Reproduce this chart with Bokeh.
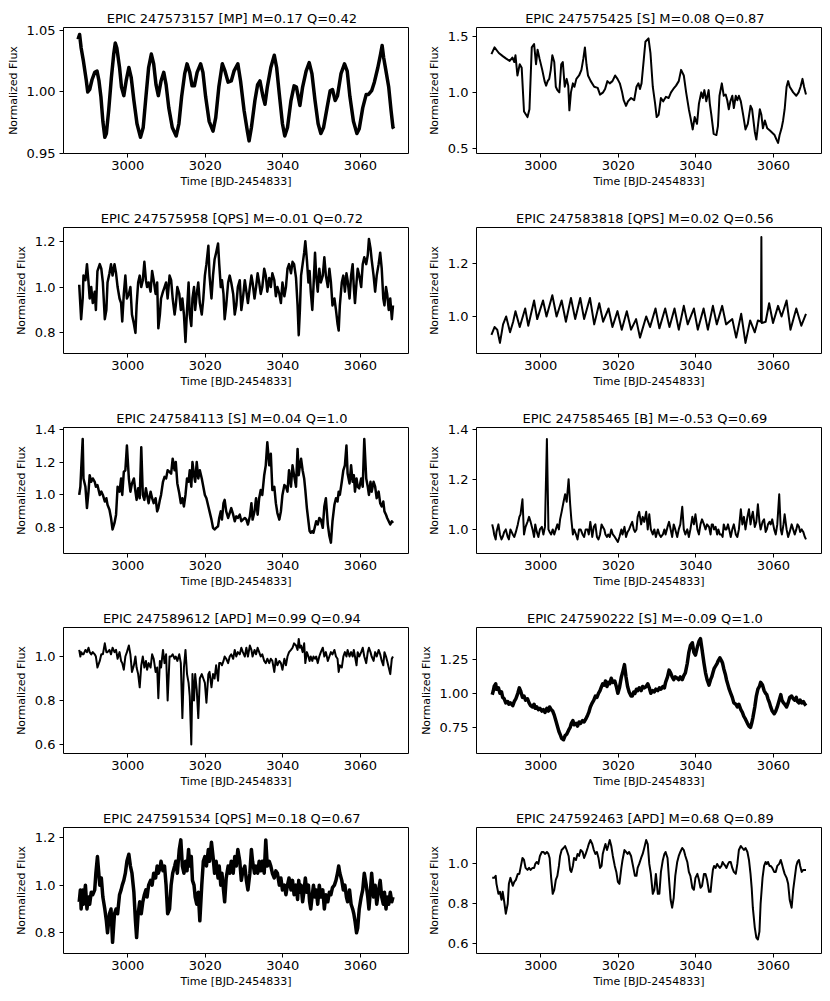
from bokeh.plotting import figure
from bokeh.layouts import column, row
from bokeh.models import Range1d, FixedTicker, PrintfTickFormatter
from bokeh.embed import file_html
from bokeh.resources import INLINE

TITLES = [
    "EPIC 247573157  [MP]  M=0.17 Q=0.42",
    "EPIC 247575425  [S]  M=0.08 Q=0.87",
    "EPIC 247575958  [QPS]  M=-0.01 Q=0.72",
    "EPIC 247583818  [QPS]  M=0.02 Q=0.56",
    "EPIC 247584113  [S]  M=0.04 Q=1.0",
    "EPIC 247585465  [B]  M=-0.53 Q=0.69",
    "EPIC 247589612  [APD]  M=0.99 Q=0.94",
    "EPIC 247590222  [S]  M=-0.09 Q=1.0",
    "EPIC 247591534  [QPS]  M=0.18 Q=0.67",
    "EPIC 247592463  [APD]  M=0.68 Q=0.89",
]
X_LABEL = "Time [BJD-2454833]"
Y_LABEL = "Normalized Flux"
X_TICKS = [3000, 3020, 3040, 3060]
X_LIMITS = (2983.45, 3072.4)
Y_TICKS = [
    [0.95, 1.00, 1.05], [0.5, 1.0, 1.5], [0.8, 1.0, 1.2], [1.0, 1.2],
    [0.8, 1.0, 1.2, 1.4], [1.0, 1.2, 1.4], [0.6, 0.8, 1.0], [0.75, 1.00, 1.25],
    [0.8, 1.0, 1.2], [0.6, 0.8, 1.0],
]
Y_FORMATS = ["%.2f", "%.1f", "%.1f", "%.1f", "%.1f", "%.1f", "%.1f", "%.2f", "%.1f", "%.1f"]
Y_LIMITS = [
    (0.9497, 1.0527), (0.456, 1.577), (0.71, 1.26), (0.86, 1.336), (0.644, 1.41),
    (0.904, 1.406), (0.559, 1.132), (0.559, 1.482), (0.713, 1.242), (0.55, 1.183),
]
LINE_WIDTHS = [3.5, 2, 2.5, 2, 2.5, 2, 2, 3.5, 3.5, 2]

# ---- panel 1 (own sampling) ----
TIME_1 = [
    2987.2, 2987.6, 2988.0, 2988.6, 2989.3, 2989.7, 2990.2, 2990.8, 2991.5, 2992.1,
    2992.6, 2993.1, 2993.6, 2994.1, 2994.5, 2995.1, 2995.8, 2996.4, 2996.8, 2997.2,
    2997.9, 2998.4, 2999.0, 2999.6, 3000.3, 3000.9, 3001.6, 3002.4, 3003.3, 3004.0,
    3004.7, 3005.4, 3006.1, 3006.7, 3007.3, 3007.9, 3008.6, 3009.3, 3009.9, 3010.6,
    3011.5, 3012.5, 3013.2, 3013.9, 3014.7, 3015.3, 3016.0, 3016.6, 3017.2, 3017.9,
    3018.8, 3019.4, 3020.1, 3021.0, 3022.0, 3022.7, 3023.5, 3024.4, 3025.1, 3025.9,
    3026.7, 3027.4, 3028.4, 3029.1, 3030.0, 3030.9, 3031.3, 3031.9, 3032.8, 3033.5,
    3034.1, 3034.9, 3035.4, 3036.0, 3036.9, 3037.8, 3038.4, 3039.1, 3039.9, 3040.5,
    3041.2, 3042.1, 3042.9, 3043.5, 3044.4, 3045.1, 3046.0, 3046.8, 3047.5, 3048.3,
    3049.1, 3049.8, 3050.5, 3051.4, 3052.2, 3052.8, 3053.5, 3054.1, 3055.0, 3055.9,
    3056.6, 3057.3, 3058.2, 3059.1, 3059.7, 3060.6, 3061.5, 3062.1, 3062.9, 3063.6,
    3064.5, 3065.2, 3065.6, 3066.0, 3066.6, 3067.3, 3067.9, 3068.4, 3068.6,
]
FLUX_1 = [
    1.043, 1.047, 1.036, 1.025, 1.010, 1.000, 1.002, 1.010, 1.016, 1.017,
    1.009, 0.996, 0.976, 0.963, 0.966, 0.985, 1.012, 1.031, 1.040, 1.036,
    1.020, 1.004, 0.997, 1.009, 1.020, 1.012, 0.993, 0.974, 0.963, 0.971,
    0.996, 1.020, 1.031, 1.023, 1.006, 0.997, 1.009, 1.016, 1.006, 0.987,
    0.971, 0.964, 0.974, 0.996, 1.015, 1.023, 1.016, 1.005, 1.005, 1.016,
    1.023, 1.016, 0.996, 0.976, 0.968, 0.979, 1.004, 1.023, 1.017, 1.008,
    1.009, 1.017, 1.023, 1.009, 0.985, 0.967, 0.960, 0.971, 0.993, 1.006,
    1.009, 0.996, 0.990, 1.004, 1.020, 1.030, 1.020, 0.998, 0.974, 0.964,
    0.971, 0.993, 1.005, 1.004, 0.989, 1.004, 1.017, 1.024, 1.015, 0.993,
    0.974, 0.966, 0.971, 0.987, 1.001, 1.002, 0.993, 0.997, 1.015, 1.023,
    1.017, 0.996, 0.976, 0.966, 0.970, 0.987, 0.998, 0.998, 1.001, 1.008,
    1.020, 1.031, 1.038, 1.028, 1.017, 1.004, 0.985, 0.971, 0.970,
]

# ---- panel 2 (own sampling) ----
TIME_2 = [
    2987.3, 2988.1, 2989.2, 2990.3, 2991.1, 2992.0, 2992.7, 2993.2, 2993.5, 2994.0,
    2994.6, 2995.1, 2995.7, 2996.6, 2997.1, 2997.7, 2998.3, 2998.8, 2999.2, 2999.7,
    3000.4, 3001.0, 3001.4, 3001.8, 3002.2, 3002.6, 3003.0, 3003.5, 3003.9, 3004.3,
    3004.8, 3005.3, 3005.7, 3006.2, 3006.7, 3007.1, 3007.4, 3007.8, 3008.3, 3008.7,
    3009.2, 3009.9, 3010.5, 3011.0, 3011.4, 3011.8, 3012.2, 3012.9, 3013.8, 3014.7,
    3015.3, 3016.1, 3016.6, 3017.2, 3017.8, 3018.5, 3019.2, 3019.8, 3020.4, 3021.0,
    3021.4, 3022.0, 3022.5, 3023.3, 3024.1, 3024.7, 3025.2, 3025.6, 3026.0, 3026.6,
    3027.0, 3027.8, 3028.3, 3028.9, 3029.5, 3029.9, 3030.4, 3031.0, 3031.6, 3032.3,
    3033.0, 3033.6, 3034.2, 3034.9, 3035.6, 3036.2, 3036.9, 3037.5, 3038.2, 3038.6,
    3039.2, 3039.7, 3040.3, 3040.8, 3041.4, 3041.8, 3042.2, 3042.7, 3043.3, 3043.6,
    3044.0, 3044.6, 3045.3, 3045.7, 3046.1, 3046.7, 3047.2, 3047.7, 3048.1, 3048.5,
    3048.9, 3049.4, 3049.8, 3050.3, 3050.7, 3051.1, 3051.6, 3052.2, 3052.8, 3053.4,
    3054.1, 3054.5, 3055.2, 3055.6, 3056.0, 3056.5, 3056.9, 3057.3, 3057.8, 3058.4,
    3059.1, 3059.7, 3060.3, 3060.8, 3061.2, 3061.6, 3062.1, 3062.5, 3062.9, 3063.4,
    3063.8, 3064.2, 3065.1, 3065.9, 3066.5, 3067.0, 3067.5, 3067.9, 3068.4,
]
FLUX_2 = [
    1.34, 1.40, 1.35, 1.32, 1.30, 1.28, 1.31, 1.27, 1.33, 1.15,
    1.25, 1.22, 0.83, 0.78, 0.85, 1.40, 1.43, 1.25, 1.38, 1.30,
    1.20, 1.10, 1.06, 1.10, 1.12, 1.20, 1.33, 1.27, 1.05, 1.02,
    1.00, 1.25, 1.27, 1.05, 1.12, 1.06, 0.84, 1.00, 1.08, 1.05,
    1.12, 1.15, 1.20, 1.30, 1.40, 1.25, 1.15, 1.10, 1.05, 1.04,
    0.98, 1.00, 1.03, 1.10, 1.08, 1.10, 1.15, 1.12, 1.08, 1.00,
    0.93, 0.88, 0.92, 0.95, 0.93, 1.05, 1.08, 1.03, 1.08, 1.30,
    1.45, 1.48, 1.35, 1.05, 0.90, 0.78, 0.80, 0.95, 0.92, 0.96,
    0.95, 1.00, 1.03, 1.06, 1.10, 1.20, 1.15, 1.00, 0.85, 0.78,
    0.67, 0.78, 0.72, 0.90, 1.00, 0.95, 1.02, 0.92, 1.02, 0.90,
    0.80, 0.63, 0.62, 0.70, 0.97, 1.08, 0.97, 0.98, 0.93, 0.85,
    0.92, 0.97, 0.86, 0.97, 0.93, 0.97, 0.92, 0.80, 0.67, 0.72,
    0.88, 0.85, 0.65, 0.58, 0.70, 0.85, 0.80, 0.68, 0.75, 0.68,
    0.66, 0.64, 0.62, 0.58, 0.55, 0.62, 0.68, 0.75, 0.85, 1.05,
    1.10, 1.05, 1.00, 0.97, 1.00, 1.05, 1.12, 1.05, 0.98,
]

# ---- panel 4 (own sampling) ----
TIME_4 = [
    2987.3, 2988.1, 2988.8, 2989.5, 2990.3, 2991.1, 2992.1, 2992.9, 2993.5, 2994.6,
    2996.0, 2996.8, 2998.3, 2999.1, 3000.6, 3001.5, 3003.0, 3004.1, 3005.4, 3006.5,
    3007.8, 3008.9, 3010.2, 3011.2, 3012.7, 3013.8, 3015.1, 3016.1, 3017.5, 3018.5,
    3019.8, 3020.9, 3022.2, 3023.3, 3024.6, 3025.6, 3027.2, 3028.2, 3029.6, 3030.6,
    3032.1, 3033.2, 3034.5, 3035.6, 3036.9, 3037.9, 3039.5, 3040.5, 3042.0, 3043.1,
    3044.4, 3045.4, 3046.8, 3047.8, 3049.4, 3050.4, 3051.7, 3052.8, 3054.0, 3055.2,
    3056.0, 3056.8, 3056.9, 3057.0, 3058.0, 3058.9, 3059.9, 3061.2, 3062.1, 3063.4,
    3064.4, 3065.9, 3067.2, 3068.4,
]
FLUX_4 = [
    0.93, 0.96, 0.95, 0.90, 0.97, 1.00, 0.94, 0.98, 1.02, 0.96,
    1.03, 0.965, 1.06, 0.99, 1.06, 1.00, 1.08, 1.00, 1.06, 0.98,
    1.07, 0.99, 1.07, 0.99, 1.07, 0.97, 1.05, 0.98, 1.03, 0.96,
    1.02, 0.95, 1.02, 0.95, 0.99, 0.92, 1.00, 0.96, 1.03, 0.955,
    1.03, 0.96, 1.03, 0.95, 1.04, 0.97, 1.03, 0.95, 1.03, 0.95,
    1.04, 0.97, 1.04, 0.97, 0.99, 0.92, 1.01, 0.90, 0.985, 0.94,
    0.985, 0.98, 1.30, 0.975, 0.98, 1.05, 0.975, 1.04, 1.00, 1.06,
    0.95, 1.03, 0.965, 1.01,
]

# ---- shared sampling for the other panels ----
TIME_SHARED = [
    2987.5, 2987.8, 2988.0, 2988.4, 2988.6, 2989.1, 2989.5, 2989.9, 2990.2, 2990.6,
    2991.0, 2991.5, 2991.8, 2992.2, 2992.8, 2993.2, 2993.6, 2994.1, 2994.5, 2994.8,
    2995.3, 2995.7, 2996.1, 2996.6, 2997.0, 2997.4, 2997.9, 2998.3, 2998.6, 2999.0,
    2999.4, 2999.8, 3000.3, 3000.7, 3001.1, 3001.6, 3002.0, 3002.3, 3002.7, 3003.1,
    3003.5, 3003.9, 3004.3, 3004.7, 3005.0, 3005.4, 3005.9, 3006.3, 3006.7, 3007.2,
    3007.6, 3007.9, 3008.3, 3008.6, 3009.1, 3009.5, 3009.9, 3010.3, 3010.8, 3011.2,
    3011.6, 3012.1, 3012.4, 3012.8, 3013.3, 3013.7, 3014.1, 3014.5, 3014.9, 3015.3,
    3015.7, 3016.0, 3016.4, 3016.7, 3017.1, 3017.4, 3017.8, 3018.2, 3018.6, 3019.1,
    3019.5, 3019.9, 3020.3, 3020.8, 3021.1, 3021.6, 3022.0, 3022.4, 3022.8, 3023.3,
    3023.6, 3024.0, 3024.3, 3024.7, 3025.0, 3025.4, 3025.9, 3026.3, 3026.7, 3027.2,
    3027.6, 3028.0, 3028.4, 3028.9, 3029.3, 3029.7, 3030.2, 3030.6, 3031.0, 3031.5,
    3031.9, 3032.2, 3032.7, 3033.1, 3033.5, 3033.9, 3034.3, 3034.7, 3035.2, 3035.6,
    3036.0, 3036.5, 3036.9, 3037.3, 3037.8, 3038.2, 3038.6, 3039.1, 3039.5, 3039.9,
    3040.4, 3040.8, 3041.2, 3041.6, 3042.1, 3042.5, 3042.9, 3043.4, 3043.8, 3044.1,
    3044.4, 3044.7, 3045.1, 3045.5, 3045.8, 3046.2, 3046.6, 3046.9, 3047.2, 3047.6,
    3047.9, 3048.3, 3048.6, 3049.0, 3049.4, 3049.8, 3050.3, 3050.7, 3051.1, 3051.6,
    3052.0, 3052.4, 3052.8, 3053.3, 3053.7, 3054.1, 3054.4, 3054.7, 3055.2, 3055.6,
    3056.0, 3056.4, 3056.7, 3057.2, 3057.6, 3058.0, 3058.3, 3058.6, 3059.0, 3059.3,
    3059.7, 3060.2, 3060.6, 3061.0, 3061.5, 3061.9, 3062.2, 3062.6, 3062.9, 3063.4,
    3063.8, 3064.2, 3064.7, 3065.1, 3065.5, 3065.9, 3066.2, 3066.6, 3066.9, 3067.3,
    3067.7, 3068.1, 3068.4,
]
FLUX_3 = [
    1.01, 0.92, 0.86, 0.95, 1.05, 1.03, 1.10, 1.02, 0.95, 1.00,
    0.93, 0.98, 0.90, 1.07, 1.10, 1.08, 1.02, 0.86, 0.90, 1.02,
    1.06, 1.10, 1.05, 1.10, 1.06, 1.00, 0.95, 0.93, 0.85, 0.97,
    1.05, 0.95, 0.97, 1.00, 0.88, 0.84, 0.80, 0.92, 1.02, 1.05,
    1.00, 1.03, 1.11, 1.03, 1.00, 1.02, 0.98, 1.07, 1.03, 0.97,
    1.02, 0.82, 0.88, 0.95, 0.98, 1.00, 1.02, 0.95, 1.05, 1.03,
    0.95, 0.88, 0.92, 1.00, 0.97, 0.90, 0.95, 0.88, 0.76, 0.90,
    1.02, 0.88, 0.83, 0.95, 1.00, 0.90, 0.97, 1.02, 0.93, 0.88,
    0.95, 1.05, 1.10, 1.18, 1.05, 0.95, 1.05, 1.12, 1.15, 1.19,
    1.10, 1.00, 1.03, 0.97, 0.86, 0.92, 1.02, 1.05, 1.02, 0.97,
    0.88, 0.92, 1.00, 1.03, 0.90, 0.95, 1.03, 0.98, 0.93, 1.00,
    1.05, 1.02, 0.95, 1.00, 1.06, 1.02, 0.97, 1.00, 1.08, 1.05,
    0.98, 1.04, 1.00, 1.06, 1.03, 0.96, 1.00, 0.97, 0.93, 1.02,
    0.96, 1.00, 1.08, 1.10, 1.06, 1.11, 1.10, 1.04, 0.92, 0.79,
    0.90, 1.05, 1.10, 1.15, 1.20, 1.12, 1.02, 1.07, 0.98, 0.90,
    1.00, 1.15, 1.05, 0.98, 1.08, 1.02, 1.05, 1.13, 1.05, 1.00,
    1.08, 1.02, 0.92, 0.95, 0.90, 0.84, 0.81, 0.92, 1.02, 1.05,
    0.98, 1.06, 1.03, 0.95, 1.05, 1.10, 1.00, 0.93, 1.02, 1.08,
    1.05, 1.00, 1.10, 1.13, 1.10, 1.14, 1.21, 1.17, 1.12, 1.05,
    0.98, 1.05, 1.10, 1.15, 1.08, 0.95, 0.92, 1.00, 0.97, 0.90,
    0.95, 0.86, 0.92,
]
FLUX_5 = [
    1.00, 1.05, 1.15, 1.34, 1.10, 1.05, 0.92, 1.02, 1.12, 1.08,
    1.10, 1.08, 1.05, 1.06, 1.00, 1.02, 1.00, 0.96, 0.98, 0.94,
    0.91, 0.86, 0.79, 0.83, 0.88, 1.05, 1.02, 1.10, 1.00, 1.14,
    1.15, 1.30, 1.10, 1.02, 1.07, 1.10, 1.02, 0.97, 1.04, 0.98,
    1.29, 1.00, 0.97, 1.04, 1.00, 0.95, 1.02, 0.98, 0.95, 0.98,
    0.90, 0.92, 0.97, 1.00, 1.08, 1.11, 1.10, 1.15, 1.14, 1.13,
    1.22, 1.15, 1.20, 1.07, 1.01, 0.95, 0.98, 0.93, 1.00, 1.10,
    1.08, 1.15, 1.05, 1.20, 1.12, 1.08, 1.20, 1.10, 1.15, 1.10,
    1.05, 1.00, 0.98, 0.93, 0.90, 0.85, 0.80, 0.79, 0.80, 0.81,
    0.86, 0.90, 0.85, 0.95, 0.97, 0.90, 0.86, 0.89, 0.92, 0.88,
    0.84, 0.87, 0.86, 0.88, 0.84, 0.85, 0.86, 0.85, 0.82, 0.87,
    0.95, 0.85, 0.90, 0.98, 0.88, 0.98, 1.03, 1.00, 1.12, 1.18,
    1.32, 1.18, 1.25, 1.03, 1.05, 0.95, 0.89, 0.85, 0.90, 1.00,
    1.06, 1.05, 1.02, 1.15, 1.05, 1.18, 1.12, 1.05, 1.28, 1.12,
    1.18, 1.22, 1.15, 1.10, 1.03, 0.92, 0.84, 0.78, 0.77, 0.78,
    0.77, 0.81, 0.84, 0.82, 0.86, 0.85, 0.80, 0.93, 0.98, 0.82,
    0.75, 0.71, 0.84, 0.94, 0.98, 0.96, 1.02, 1.00, 1.08, 1.15,
    1.18, 1.30, 1.13, 1.07, 1.18, 1.08, 1.12, 1.02, 1.10, 1.05,
    1.04, 1.10, 1.05, 1.34, 1.10, 1.05, 1.00, 1.08, 1.02, 1.08,
    1.05, 0.98, 1.02, 0.95, 0.93, 0.96, 0.90, 0.88, 0.86, 0.84,
    0.82, 0.84, 0.83,
]
FLUX_6 = [
    1.02, 1.00, 0.98, 0.96, 0.99, 1.02, 0.98, 0.96, 0.97, 0.99,
    1.00, 0.97, 0.96, 1.00, 0.98, 0.97, 0.99, 1.02, 1.05, 1.06,
    1.12, 0.98, 1.01, 1.03, 1.05, 1.03, 1.00, 0.97, 1.02, 0.99,
    0.97, 1.00, 1.01, 0.98, 1.01, 1.36, 1.00, 0.99, 0.98, 1.00,
    0.98, 1.00, 1.02, 1.00, 1.04, 1.07, 1.11, 1.14, 1.11, 1.20,
    1.10, 1.04, 0.98, 1.00, 0.98, 0.96, 1.00, 1.00, 0.98, 0.97,
    1.00, 1.00, 0.98, 1.03, 0.97, 1.01, 1.02, 0.97, 0.96, 0.98,
    1.02, 1.01, 1.00, 0.98, 0.97, 0.98, 0.97, 1.00, 0.98, 0.97,
    0.96, 0.95, 0.97, 1.00, 0.98, 1.01, 0.97, 0.99, 1.00, 1.02,
    1.03, 1.00, 0.99, 1.00, 1.05, 1.07, 1.02, 1.05, 1.03, 1.07,
    1.00, 1.06, 1.00, 0.98, 1.00, 0.97, 1.00, 0.98, 0.97, 0.98,
    1.00, 0.98, 1.01, 1.03, 1.00, 0.97, 1.02, 1.00, 0.97, 1.00,
    1.02, 1.09, 1.00, 0.98, 1.00, 0.97, 1.00, 1.05, 1.02, 1.06,
    1.00, 0.98, 1.02, 1.04, 1.02, 1.00, 1.02, 1.01, 0.98, 1.02,
    1.02, 1.00, 1.01, 0.98, 1.00, 0.98, 0.98, 0.97, 1.02, 1.00,
    1.00, 1.02, 1.00, 0.97, 1.00, 1.02, 0.98, 0.97, 1.00, 1.08,
    1.02, 1.05, 1.00, 1.05, 1.08, 1.02, 1.05, 1.07, 1.01, 1.03,
    1.10, 1.03, 1.00, 1.03, 1.04, 0.99, 1.00, 1.02, 1.03, 1.02,
    1.04, 1.00, 0.98, 1.02, 1.14, 1.00, 0.98, 1.02, 1.06, 1.00,
    0.97, 0.99, 1.02, 1.00, 0.98, 1.00, 1.02, 1.01, 0.99, 1.00,
    0.99, 0.97, 0.96,
]
FLUX_7 = [
    1.03, 1.00, 1.02, 1.01, 1.01, 1.03, 1.02, 1.04, 1.02, 1.01,
    1.02, 1.01, 1.00, 0.95, 0.98, 1.01, 1.01, 1.06, 1.02, 1.02,
    1.03, 1.01, 1.04, 1.02, 1.03, 0.99, 1.02, 0.98, 0.97, 0.94,
    1.00, 1.02, 1.05, 1.01, 0.93, 0.96, 1.00, 0.95, 0.92, 0.86,
    0.96, 1.00, 0.95, 0.98, 0.94, 0.97, 0.95, 1.01, 0.99, 0.93,
    0.95, 0.81, 0.98, 0.95, 1.03, 0.97, 1.01, 0.80, 1.00, 1.00,
    1.01, 0.99, 1.00, 0.98, 1.01, 0.97, 0.72, 0.95, 1.03, 0.92,
    0.88, 0.82, 0.60, 0.92, 0.80, 0.92, 0.85, 0.72, 0.90, 0.92,
    0.90, 0.88, 0.79, 0.92, 0.93, 0.86, 0.92, 0.90, 0.96, 0.89,
    0.97, 0.97, 0.96, 0.98, 1.00, 0.99, 0.97, 1.00, 1.01, 0.99,
    1.03, 1.00, 1.02, 1.01, 1.04, 1.02, 1.00, 1.04, 1.00, 1.05,
    1.03, 1.00, 1.03, 1.01, 1.04, 1.02, 1.00, 1.01, 0.98, 0.97,
    0.99, 0.97, 0.99, 0.98, 0.93, 0.99, 0.96, 0.98, 0.97, 0.94,
    0.99, 0.96, 1.00, 1.02, 1.03, 1.04, 1.06, 1.05, 1.03, 1.08,
    1.04, 1.05, 1.02, 1.06, 0.97, 1.02, 1.00, 0.98, 1.00, 0.98,
    1.00, 0.99, 1.00, 0.97, 1.00, 1.02, 1.04, 1.00, 1.02, 0.98,
    1.00, 1.02, 1.01, 1.03, 1.00, 0.99, 0.93, 0.96, 0.95, 1.00,
    1.02, 1.00, 1.03, 1.00, 1.02, 1.00, 1.03, 1.00, 0.96, 1.02,
    1.00, 1.02, 1.04, 1.00, 0.97, 1.02, 1.04, 1.02, 1.00, 0.98,
    1.02, 1.00, 1.03, 1.01, 0.98, 0.96, 1.02, 1.00, 0.98, 0.95,
    0.92, 0.99, 1.00,
]
FLUX_8 = [
    0.99, 1.02, 1.05, 1.07, 1.03, 1.04, 1.00, 1.01, 0.97, 0.96,
    0.93, 0.94, 0.92, 0.93, 0.91, 0.94, 0.96, 1.00, 1.04, 1.02,
    0.97, 0.98, 0.95, 0.96, 0.93, 0.91, 0.90, 0.92, 0.89, 0.90,
    0.88, 0.89, 0.87, 0.88, 0.86, 0.89, 0.87, 0.90, 0.88, 0.87,
    0.84, 0.80, 0.76, 0.72, 0.70, 0.67, 0.66, 0.69, 0.70, 0.73,
    0.75, 0.78, 0.80, 0.77, 0.78, 0.76, 0.79, 0.78, 0.80, 0.79,
    0.81, 0.84, 0.86, 0.90, 0.93, 0.95, 0.98, 0.97, 1.00, 1.02,
    1.05, 1.07, 1.06, 1.09, 1.05, 1.08, 1.07, 1.11, 1.08, 1.09,
    1.05, 1.00, 1.04, 1.12, 1.15, 1.21, 1.12, 1.05, 1.01, 0.98,
    0.98, 1.01, 1.00, 1.03, 1.02, 1.04, 1.02, 1.05, 1.04, 1.05,
    1.07, 1.04, 1.00, 1.02, 1.01, 1.03, 1.02, 1.04, 1.03, 1.05,
    1.04, 1.08, 1.12, 1.17, 1.15, 1.12, 1.10, 1.12, 1.11, 1.10,
    1.12, 1.10, 1.13, 1.15, 1.22, 1.30, 1.35, 1.37, 1.30, 1.28,
    1.34, 1.38, 1.40, 1.32, 1.22, 1.15, 1.10, 1.06, 1.10, 1.12,
    1.15, 1.18, 1.20, 1.22, 1.24, 1.26, 1.24, 1.22, 1.18, 1.14,
    1.10, 1.06, 1.03, 1.00, 0.97, 0.93, 0.92, 0.90, 0.92, 0.88,
    0.86, 0.83, 0.81, 0.78, 0.76, 0.75, 0.78, 0.82, 0.90, 0.98,
    1.03, 1.05, 1.08, 1.06, 1.02, 1.00, 0.99, 0.96, 0.93, 0.90,
    0.87, 0.85, 0.87, 0.90, 0.95, 0.99, 0.95, 0.93, 0.92, 0.90,
    0.93, 0.97, 0.98, 0.96, 0.95, 0.97, 0.94, 0.93, 0.95, 0.93,
    0.94, 0.92, 0.91,
]
FLUX_9 = [
    0.93, 0.98, 0.90, 0.98, 0.92, 1.00, 0.90, 0.95, 0.92, 0.97,
    0.96, 0.98, 1.05, 1.12, 1.00, 1.03, 0.95, 0.90, 0.85, 0.80,
    0.88, 0.90, 0.76, 0.88, 0.90, 0.88, 0.96, 0.98, 1.00, 1.02,
    1.05, 1.10, 1.13, 1.08, 1.05, 0.97, 0.85, 0.78, 0.88, 0.93,
    0.88, 0.93, 0.96, 0.98, 0.95, 1.00, 1.02, 1.00, 1.05, 1.03,
    1.08, 1.05, 1.07, 1.10, 1.06, 1.08, 1.00, 0.88, 0.90, 1.00,
    1.05, 1.08, 1.10, 1.05, 1.15, 1.19, 1.08, 1.05, 1.10, 1.06,
    1.15, 1.08, 1.12, 1.02, 1.00, 0.95, 0.92, 0.97, 0.85, 1.00,
    1.10, 1.12, 1.08, 1.15, 1.10, 1.18, 1.12, 1.05, 1.10, 1.03,
    1.08, 1.00, 1.05, 0.98, 0.93, 1.03, 1.08, 1.05, 1.10, 1.05,
    1.12, 1.08, 1.15, 1.10, 1.02, 1.06, 1.08, 1.02, 0.98, 1.05,
    1.15, 1.10, 1.05, 1.08, 1.05, 1.10, 1.06, 1.10, 1.05, 1.19,
    1.08, 1.10, 1.08, 1.05, 1.03, 1.06, 1.05, 1.00, 1.03, 0.98,
    1.00, 0.96, 1.00, 1.03, 0.98, 1.02, 0.96, 1.00, 0.94, 1.02,
    0.97, 1.00, 0.93, 0.98, 1.03, 0.97, 1.00, 0.93, 0.90, 0.96,
    1.00, 0.95, 0.98, 0.92, 1.00, 0.95, 0.98, 0.90, 0.96, 0.93,
    0.97, 0.96, 0.99, 1.00, 1.02, 1.05, 1.08, 1.05, 1.02, 0.98,
    1.00, 0.95, 0.93, 0.98, 0.92, 0.90, 0.88, 0.85, 0.80, 0.82,
    0.90, 0.95, 0.98, 1.05, 1.00, 0.95, 0.90, 0.98, 1.05, 0.95,
    1.00, 0.92, 0.98, 1.02, 0.95, 0.92, 0.97, 0.90, 0.95, 0.92,
    0.97, 0.93, 0.95,
]
FLUX_10 = [
    0.93, 0.93, 0.93, 0.94, 0.90, 0.85, 0.86, 0.82, 0.86, 0.81,
    0.75, 0.80, 0.90, 0.93, 0.89, 0.91, 0.92, 0.95, 0.95, 0.98,
    1.03, 1.02, 0.98, 0.97, 0.98, 0.97, 0.98, 0.98, 1.00, 1.01,
    1.00, 1.04, 1.06, 1.06, 1.05, 1.06, 1.05, 1.03, 0.93, 0.85,
    0.87, 0.92, 0.94, 0.99, 1.04, 1.07, 1.08, 1.09, 1.07, 1.04,
    0.97, 0.96, 0.99, 1.03, 1.02, 1.05, 1.04, 1.07, 1.06, 1.03,
    1.05, 1.08, 1.10, 1.12, 1.10, 1.07, 1.05, 1.06, 1.03, 0.98,
    0.99, 1.05, 1.08, 1.10, 1.07, 1.09, 1.12, 1.09, 1.04, 0.99,
    0.96, 0.91, 0.90, 0.98, 1.02, 1.07, 1.06, 1.05, 1.06, 1.04,
    1.01, 0.97, 0.94, 0.94, 0.98, 1.00, 1.03, 1.05, 1.08, 1.12,
    1.10, 1.00, 0.95, 0.85, 0.87, 0.95, 0.85, 0.85, 0.96, 1.02,
    1.05, 1.06, 1.03, 0.92, 0.82, 0.78, 0.83, 0.94, 1.01, 1.04,
    1.06, 1.08, 1.07, 1.04, 1.01, 0.96, 0.94, 0.88, 0.87, 0.93,
    0.95, 0.92, 0.88, 0.89, 0.95, 0.95, 0.92, 0.86, 0.86, 0.92,
    0.97, 0.99, 0.98, 1.00, 0.99, 0.98, 0.99, 1.01, 1.00, 0.99,
    0.98, 1.00, 1.01, 1.01, 0.98, 0.96, 0.95, 1.00, 1.07, 1.09,
    1.08, 1.07, 1.08, 1.06, 1.02, 0.95, 0.88, 0.78, 0.68, 0.63,
    0.62, 0.66, 0.80, 0.93, 0.99, 1.01, 1.00, 1.01, 0.99, 0.99,
    0.98, 0.96, 0.96, 0.99, 1.00, 1.02, 1.00, 0.97, 0.95, 0.93,
    0.90, 0.82, 0.78, 0.87, 0.93, 0.99, 1.01, 1.02, 0.99, 0.96,
    0.97, 0.97, 0.97,
]

SERIES = [
    (TIME_1, FLUX_1), (TIME_2, FLUX_2), (TIME_SHARED, FLUX_3), (TIME_4, FLUX_4),
    (TIME_SHARED, FLUX_5), (TIME_SHARED, FLUX_6), (TIME_SHARED, FLUX_7),
    (TIME_SHARED, FLUX_8), (TIME_SHARED, FLUX_9), (TIME_SHARED, FLUX_10),
]

FONT = "DejaVu Sans"


def make_panel(i):
    left = (i % 2 == 0)
    last = (i >= 8)
    p = figure(
        width=415 if left else 413,
        height=190 if last else 200,
        output_backend="svg",
        toolbar_location=None,
        x_range=Range1d(*X_LIMITS),
        y_range=Range1d(*Y_LIMITS[i]),
        min_border_left=63 if left else 61,
        min_border_right=7,
        min_border_top=27,
        min_border_bottom=37 if last else 47,
        background_fill_color="white",
        border_fill_color="white",
    )
    p.title.text = TITLES[i]
    p.title.align = "center"
    p.title.text_font = FONT
    p.title.text_font_size = "13px"
    p.title.text_font_style = "normal"
    p.title.text_color = "black"
    p.title.standoff = 3
    p.outline_line_color = "black"
    p.outline_line_width = 1
    p.outline_line_alpha = 1.0
    p.xgrid.visible = False
    p.ygrid.visible = False

    p.xaxis.ticker = FixedTicker(ticks=X_TICKS)
    p.yaxis.ticker = FixedTicker(ticks=Y_TICKS[i])
    p.yaxis.formatter = PrintfTickFormatter(format=Y_FORMATS[i])
    p.xaxis.axis_label = X_LABEL
    p.yaxis.axis_label = Y_LABEL
    for ax in (p.xaxis[0], p.yaxis[0]):
        ax.axis_line_color = None
        ax.major_tick_line_color = "black"
        ax.major_tick_line_width = 1
        ax.major_tick_out = 4
        ax.major_tick_in = 0
        ax.minor_tick_line_color = None
        ax.major_label_text_font = FONT
        ax.major_label_text_font_size = "13px"
        ax.major_label_text_color = "black"
        ax.axis_label_text_font = FONT
        ax.axis_label_text_font_size = "11px"
        ax.axis_label_text_font_style = "normal"
        ax.axis_label_text_color = "black"
    p.xaxis.major_label_standoff = 3
    p.xaxis.axis_label_standoff = 2
    p.yaxis.major_label_standoff = 4
    p.yaxis.axis_label_standoff = 4

    t, f = SERIES[i]
    n = min(len(t), len(f))
    p.line(t[:n], f[:n], line_color="black", line_width=LINE_WIDTHS[i], line_join="round")
    return p


panels = [make_panel(i) for i in range(10)]
layout = column(*[row(panels[2 * r], panels[2 * r + 1]) for r in range(5)])

open("out.html", "w").write(file_html(layout, INLINE, title="K2 light curves"))
